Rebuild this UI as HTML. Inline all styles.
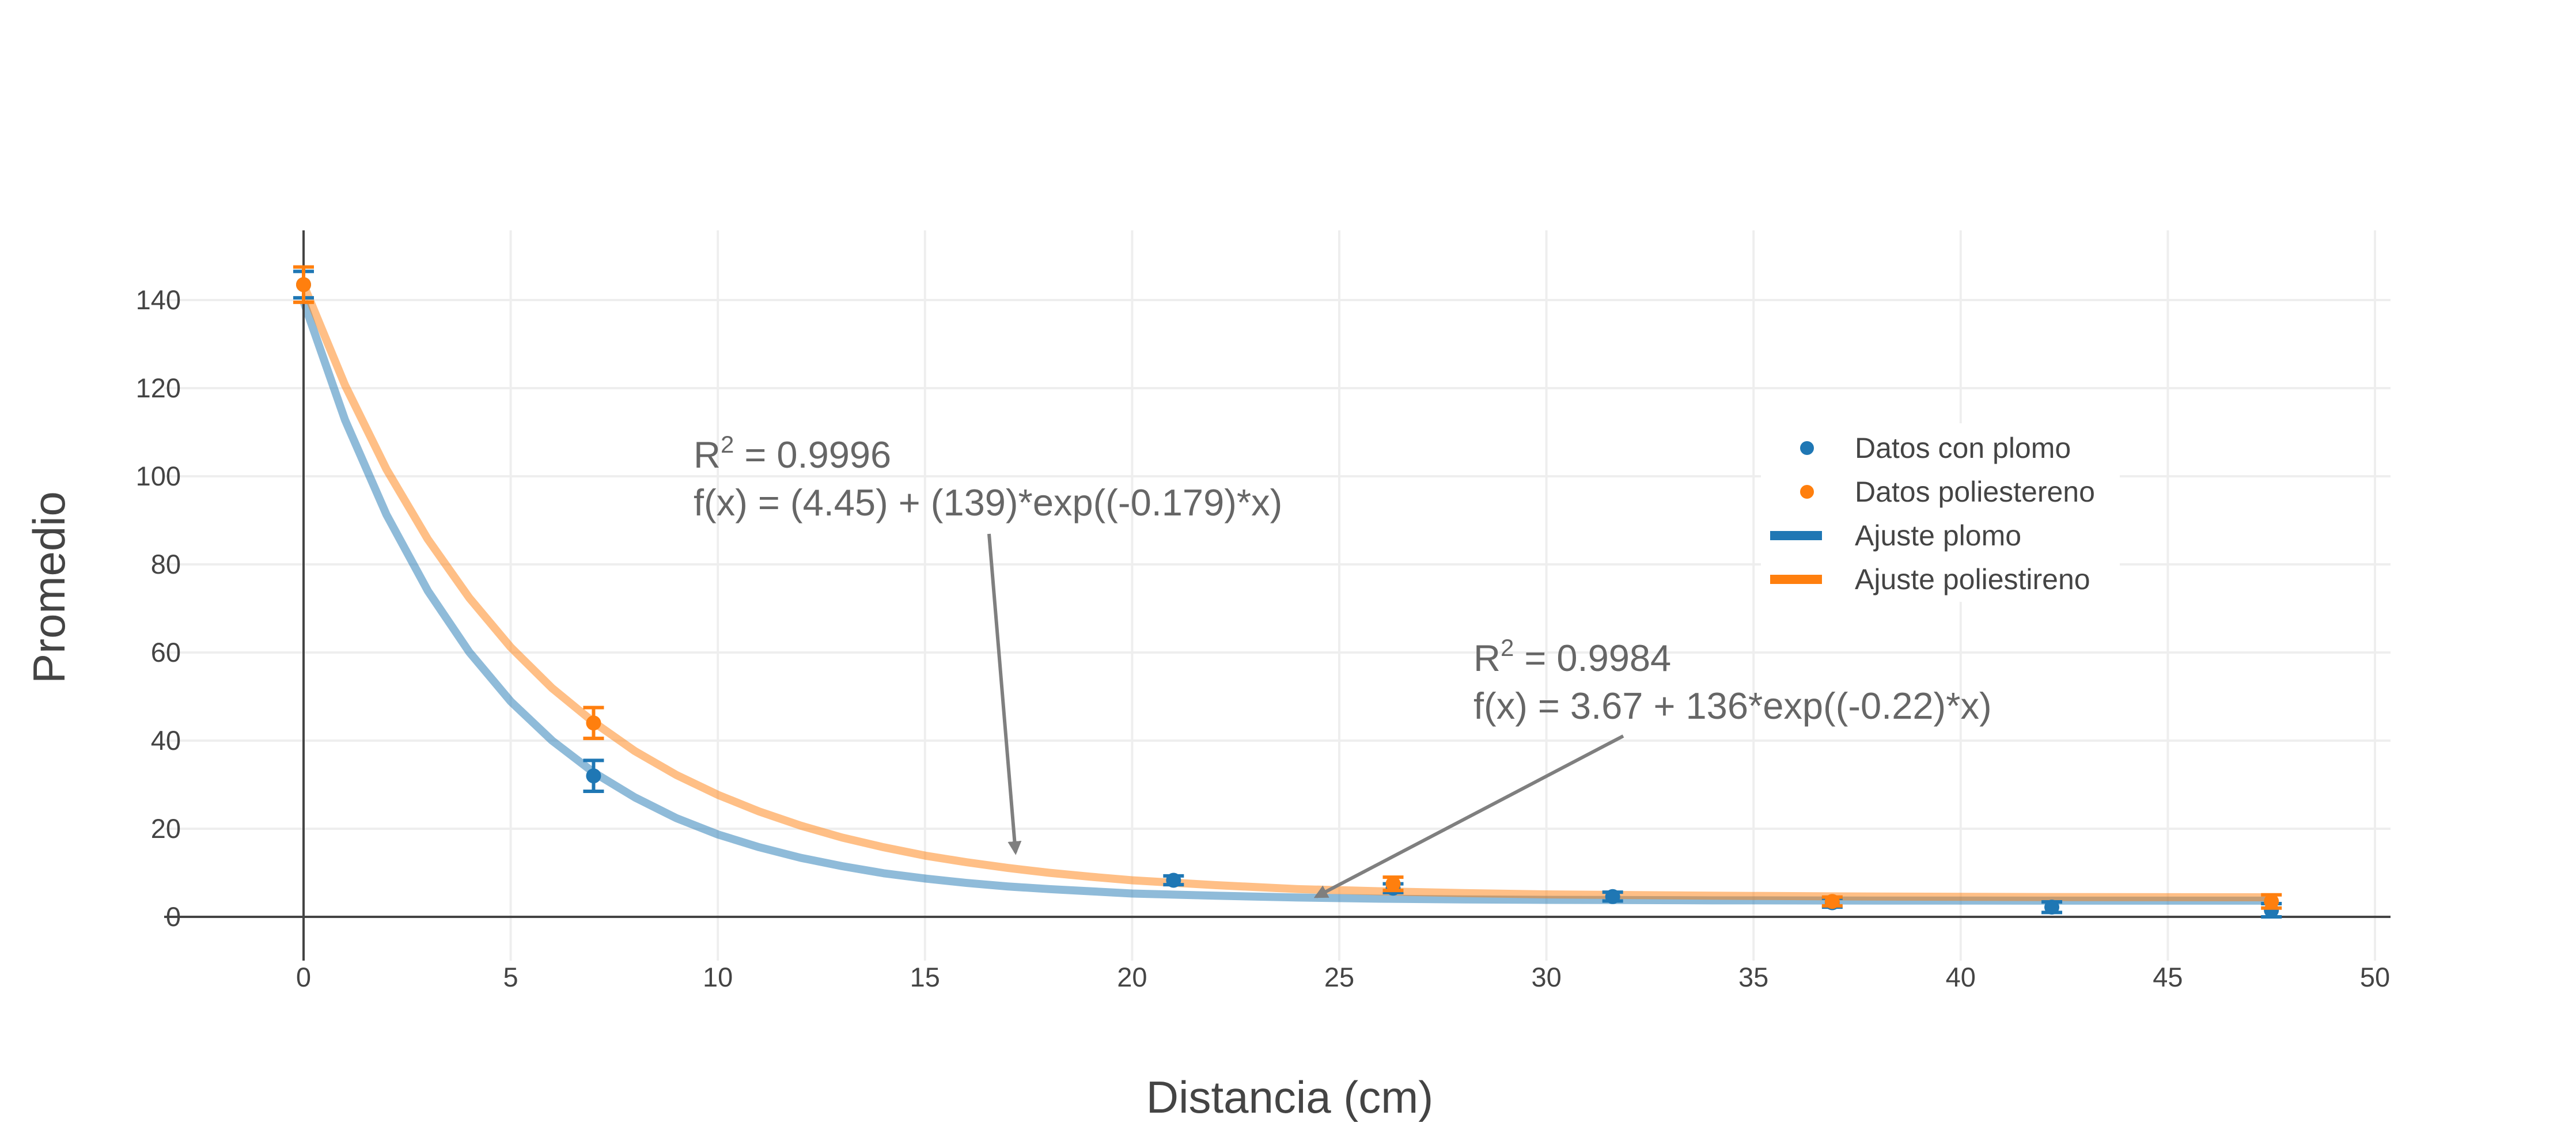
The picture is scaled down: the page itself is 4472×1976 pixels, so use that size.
<!DOCTYPE html>
<html><head><meta charset="utf-8"><style>
html,body{margin:0;padding:0;background:#fff}
svg{display:block;font-family:"Liberation Sans",sans-serif}
</style></head><body>
<svg id="chart" width="4472" height="1976" viewBox="0 0 4472 1976">
<defs><marker id="ah" viewBox="0 0 10 10" refX="8" refY="5" markerWidth="4" markerHeight="4" orient="auto"><path d="M0,0 L10,5 L0,10 z" fill="#7f7f7f"/></marker></defs>
<g id="grid"></g>
<g id="fits"></g>
<g id="axes"></g>
<g id="pts"></g>
<g id="ticks" fill="#444" font-size="47"></g>
<text x="0" y="0" transform="translate(112,1020) rotate(-90)" text-anchor="middle" font-size="78" fill="#444">Promedio</text>
<text x="2239" y="1932" text-anchor="middle" font-size="78" fill="#444">Distancia (cm)</text>
<g fill="#666" font-size="65">
<text x="1204" y="812">R<tspan font-size="42" dy="-26">2</tspan><tspan dy="26"> = 0.9996</tspan></text>
<text x="1204" y="895">f(x) = (4.45) + (139)*exp((-0.179)*x)</text>
<line x1="1717" y1="927" x2="1763" y2="1480" stroke="#7f7f7f" stroke-width="6" marker-end="url(#ah)"/>
</g>
<g fill="#666" font-size="65">
<text x="2558" y="1165">R<tspan font-size="42" dy="-26">2</tspan><tspan dy="26"> = 0.9984</tspan></text>
<text x="2558" y="1248">f(x) = 3.67 + 136*exp((-0.22)*x)</text>
<line x1="2818" y1="1278" x2="2285" y2="1557" stroke="#7f7f7f" stroke-width="6" marker-end="url(#ah)"/>
</g>
<g>
<rect x="3057" y="735" width="623" height="310" fill="#fff"/>
<circle cx="3137" cy="778" r="12" fill="#1f77b4"/>
<text x="3220" y="795" font-size="50" fill="#444">Datos con plomo</text>
<circle cx="3137" cy="854" r="12" fill="#ff7f0e"/>
<text x="3220" y="871" font-size="50" fill="#444">Datos poliestereno</text>
<rect x="3073" y="922" width="90" height="16" fill="#1f77b4"/>
<text x="3220" y="947" font-size="50" fill="#444">Ajuste plomo</text>
<rect x="3073" y="998" width="90" height="16" fill="#ff7f0e"/>
<text x="3220" y="1023" font-size="50" fill="#444">Ajuste poliestireno</text>
</g>
</svg>
<script>
const xTicks=[0,5,10,15,20,25,30,35,40,45,50];
const yTicks=[0,20,40,60,80,100,120,140];
const dataX=[0,7,21,26.3,31.6,36.9,42.2,47.5];
const plomoY=[143.5,32,8.3,6.5,4.6,3.2,2.2,1.5];
const plomoErr=[3,3.5,1,1,1,1,1.2,1.5];
const poliX=[0,7,26.3,36.9,47.5];
const poliY=[143.5,44,7.5,3.5,3.5];
const poliErr=[4,3.5,1.5,1,1.5];
const fitX=[0,1,2,3,4,5,6,7,8,9,10,11,12,13,14,15,16,17,18,19,20,22,24,26,28,30,34,38,42,47.5];
const fitPlomo=[139.7,112.8,91.3,74.0,60.1,48.9,40.0,32.8,27.1,22.4,18.7,15.8,13.4,11.5,9.9,8.7,7.7,6.9,6.3,5.8,5.3,4.8,4.4,4.12,3.95,3.86,3.75,3.7,3.68,3.67];
const fitPoli=[143.45,120.7,101.6,85.7,72.4,61.2,51.9,44.2,37.6,32.2,27.7,23.9,20.7,18.0,15.8,13.9,12.4,11.1,10.0,9.1,8.3,7.2,6.3,5.8,5.4,5.1,4.8,4.6,4.5,4.45];
const NS='http://www.w3.org/2000/svg';
const X=v=>527+v*71.92, Y=v=>1592-v*7.65;
const L=285,R=4150,T=400,B=1668;
function mk(tag,attrs,parent){const e=document.createElementNS(NS,tag);for(const k in attrs)e.setAttribute(k,attrs[k]);parent.appendChild(e);return e;}
const grid=document.getElementById('grid'),ticks=document.getElementById('ticks');
xTicks.forEach(t=>{const l=mk('line',{x1:X(t),x2:X(t),y1:T,y2:B,stroke:'#eee','stroke-width':4},grid);


const s=mk('text',{x:X(t),y:1713,'text-anchor':'middle'},ticks);s.textContent=t;

});
yTicks.forEach(t=>{const l=mk('line',{x1:L,x2:R,y1:Y(t),y2:Y(t),stroke:'#eee','stroke-width':4},grid);


const s=mk('text',{x:314,y:Y(t)+16,'text-anchor':'end'},ticks);s.textContent=t;

});
const axes=document.getElementById('axes');
const za=mk('line',{x1:X(0),x2:X(0),y1:T,y2:B,stroke:'#444','stroke-width':4},axes);


const zb=mk('line',{x1:L,x2:R,y1:Y(0),y2:Y(0),stroke:'#444','stroke-width':4},axes);


const fits=document.getElementById('fits');
[[fitPlomo,'#1f77b4','fit-plomo'],[fitPoli,'#ff7f0e','fit-poliestireno']].forEach(([ys,c,n])=>{
const p=mk('polyline',{points:fitX.map((x,i)=>X(x)+','+Y(ys[i])).join(' '),fill:'none',stroke:c,'stroke-width':14,'stroke-opacity':0.5,'stroke-linejoin':'round'},fits);

});
const pts=document.getElementById('pts');
function series(xs,ys,es,c,n){xs.forEach((x,i)=>{const g=mk('g',{},pts);


const cx=X(x),y1=Y(ys[i]+es[i]),y2=Y(ys[i]-es[i]);
mk('line',{x1:cx,x2:cx,y1:y1,y2:y2,stroke:c,'stroke-width':6},g);
mk('line',{x1:cx-18,x2:cx+18,y1:y1,y2:y1,stroke:c,'stroke-width':6},g);
mk('line',{x1:cx-18,x2:cx+18,y1:y2,y2:y2,stroke:c,'stroke-width':6},g);
mk('circle',{cx:cx,cy:Y(ys[i]),r:13,fill:c},g);});}
series(dataX,plomoY,plomoErr,'#1f77b4','point-plomo');
series(poliX,poliY,poliErr,'#ff7f0e','point-poliestereno');
</script>
</body></html>
